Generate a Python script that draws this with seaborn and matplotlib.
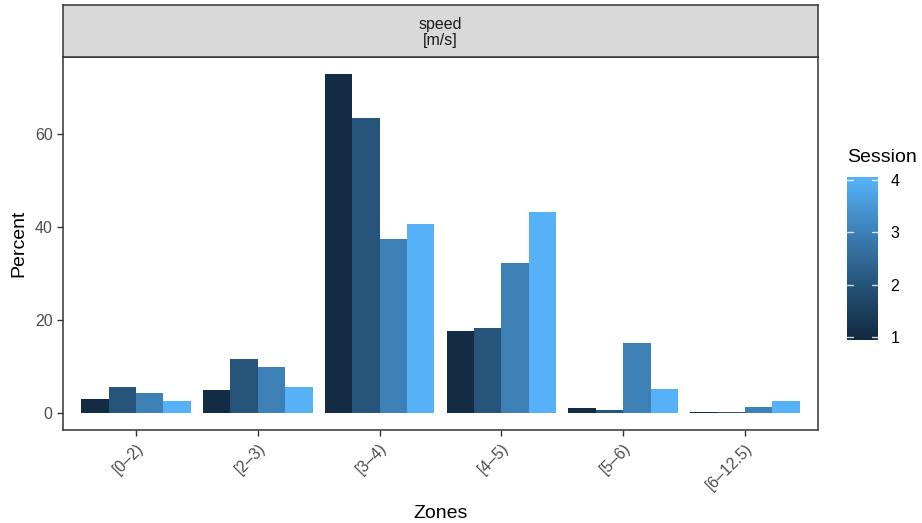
import numpy as np
import pandas as pd
import matplotlib
matplotlib.use("Agg")
import matplotlib.pyplot as plt
from matplotlib.colors import LinearSegmentedColormap
import seaborn as sns

# speed zones and the share of time (%) spent in each, per session
zones = ["[0–2)", "[2–3)", "[3–4)", "[4–5)", "[5–6)", "[6–12.5)"]
session_1 = [3.1, 5.0, 73.0, 17.6, 1.0, 0.2]
session_2 = [5.5, 11.7, 63.5, 18.4, 0.6, 0.2]
session_3 = [4.4, 10.0, 37.4, 32.2, 15.0, 1.3]
session_4 = [2.7, 5.6, 40.6, 43.3, 5.1, 2.6]
sessions = [1, 2, 3, 4]
y_ticks = [0, 20, 40, 60]

df = pd.DataFrame({
    "Zones": zones * 4,
    "Percent": session_1 + session_2 + session_3 + session_4,
    "Session": np.repeat(sessions, len(zones)),
})

grad_colors = ["#132B43", "#26547A", "#3D80B5", "#56B1F7"]
palette = dict(zip(sessions, grad_colors))
cmap = LinearSegmentedColormap.from_list("session_grad", grad_colors)

sns.set_style("white")
plt.rcParams["font.family"] = ["Liberation Sans", "DejaVu Sans"]

W, H = 922, 523
fig = plt.figure(figsize=(W / 100, H / 100), dpi=100)

def fr(x0, y0, x1, y1):
    return [x0 / W, 1 - y1 / H, (x1 - x0) / W, (y1 - y0) / H]

ax = fig.add_axes(fr(63, 57, 818, 430))
sns.barplot(data=df, x="Zones", y="Percent", hue="Session", palette=palette,
            width=0.9, gap=0, saturation=1, dodge=True, legend=False,
            linewidth=0, ax=ax, order=zones, hue_order=sessions)

ymax = max(session_1 + session_2 + session_3 + session_4)
ax.set_ylim(-0.05 * ymax, 1.05 * ymax)
ax.set_xlim(-0.6, len(zones) - 0.4)
ax.set_yticks(y_ticks)
ax.set_yticklabels([str(t) for t in y_ticks])
ax.grid(False)
for sp in ax.spines.values():
    sp.set_color("#333333")
    sp.set_linewidth(1.1)
ax.tick_params(axis="both", colors="#333333", length=4, width=1.0,
               labelcolor="#4D4D4D", labelsize=11.5, direction="out")
ax.tick_params(axis="both", bottom=True, left=True)
plt.setp(ax.get_xticklabels(), rotation=45, ha="right", va="top",
         rotation_mode="anchor")
ax.set_xlabel("Zones", fontsize=14, color="black", labelpad=9)
ax.set_ylabel("Percent", fontsize=14, color="black", labelpad=5)

# facet strip above the panel
strip = fig.add_axes(fr(63, 5, 818, 57))
strip.set_facecolor("#D9D9D9")
strip.set_xticks([])
strip.set_yticks([])
for sp in strip.spines.values():
    sp.set_color("#333333")
    sp.set_linewidth(1.1)
strip.text(0.5, 0.47, "speed\n[m/s]", ha="center", va="center",
           fontsize=11.5, color="#1A1A1A", linespacing=1.1,
           transform=strip.transAxes)

# continuous colour bar for Session
cax = fig.add_axes(fr(847, 177, 878, 340))
lo, hi = 1 - 0.058, 4 + 0.058
grad = np.linspace(lo, hi, 256).reshape(-1, 1)
cax.imshow(grad, aspect="auto", cmap=cmap, vmin=1, vmax=4,
           extent=[0, 1, lo, hi], origin="lower")
cax.set_xlim(0, 1)
cax.set_ylim(lo, hi)
for s in sessions:
    cax.plot([0, 0.2], [s, s], color="white", lw=1, alpha=0.8)
    cax.plot([0.8, 1], [s, s], color="white", lw=1, alpha=0.8)
cax.set_xticks([])
cax.yaxis.tick_right()
cax.set_yticks(sessions)
cax.set_yticklabels([str(s) for s in sessions])
cax.tick_params(axis="y", length=0, labelsize=11.5, pad=9, labelcolor="black")
for sp in cax.spines.values():
    sp.set_visible(False)
fig.text(847 / W, 1 - 158 / H, "Session", ha="left", va="center",
         fontsize=14, color="black")

fig.savefig("out.png", dpi=100)
